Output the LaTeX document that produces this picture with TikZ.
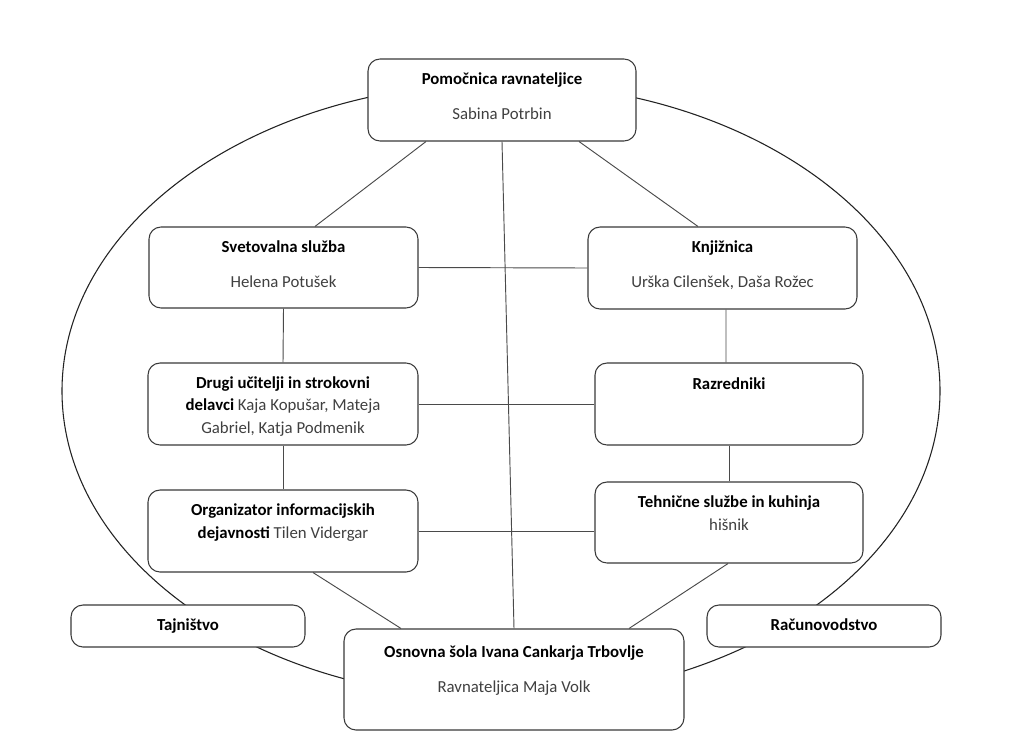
\documentclass[tikz,border=0pt]{standalone}
\usepackage{fontspec}
\setmainfont{Carlito}
\definecolor{boxcol}{HTML}{3A3A3A}
\definecolor{linecol}{HTML}{4A4A4A}
\definecolor{ellcol}{HTML}{222222}
\definecolor{namecol}{HTML}{404040}
\newcommand\dfsize{\fontsize{12.6pt}{16.6pt}\selectfont}
\begin{document}
\begin{tikzpicture}[x=0.75pt,y=-0.75pt,
  boxst/.style={draw=boxcol, line width=0.8pt, rounded corners=9pt, fill=white, inner sep=0pt},
  ttlst/.style={font=\dfsize\bfseries, text=black, anchor=base, align=center, inner sep=0pt},
  nmst/.style={font=\dfsize, text=namecol, anchor=base, align=center, inner sep=0pt},
  mxst/.style={font=\dfsize, text=black, anchor=base, align=center, inner sep=0pt},
  connst/.style={draw=linecol, line width=0.7pt},
  ellst/.style={draw=ellcol, line width=0.8pt}]
\useasboundingbox[fill=white] (0,0) rectangle (1024,753);

% outer ellipse
\draw[ellst] (501,391) ellipse [x radius=439, y radius=308];

% boxes
\node[boxst, minimum width=201pt, minimum height=61.5pt] (top) at (502,100) {};
\node[boxst, minimum width=201.75pt, minimum height=60.75pt] (sv) at (283.5,267.5) {};
\node[boxst, minimum width=201.75pt, minimum height=61.5pt] (kn) at (722.5,268) {};
\node[boxst, minimum width=202.5pt, minimum height=61.5pt] (du) at (283,404) {};
\node[boxst, minimum width=201pt, minimum height=61.5pt] (rz) at (729,404) {};
\node[boxst, minimum width=202.5pt, minimum height=61.5pt] (org) at (283,531) {};
\node[boxst, minimum width=201pt, minimum height=60.75pt] (teh) at (729,522.5) {};
\node[boxst, minimum width=175.5pt, minimum height=31.5pt] (taj) at (188,626) {};
\node[boxst, minimum width=175.5pt, minimum height=31.5pt] (rac) at (824,626) {};
\node[boxst, minimum width=255pt, minimum height=75.75pt] (os) at (514,679.5) {};

% texts
\node[ttlst] (topT) at (502,84) {Pomočnica ravnateljice};
\node[nmst] (topN) at (502,119) {Sabina Potrbin};
\node[ttlst] (svT) at (283.5,252) {Svetovalna služba};
\node[nmst] (svN) at (283.5,287) {Helena Potušek};
\node[ttlst] (knT) at (722.5,252) {Knjižnica};
\node[nmst] (knN) at (722.5,287) {Urška Cilenšek, Daša Rožec};
\node[mxst] (duT) at (283,433) {\textbf{Drugi učitelji in strokovni}\\\textbf{delavci} \textcolor{namecol}{Kaja Kopušar, Mateja}\\\textcolor{namecol}{Gabriel, Katja Podmenik}};
\node[ttlst] (rzT) at (729,389) {Razredniki};
\node[mxst] (orgT) at (283,538) {\textbf{Organizator informacijskih}\\\textbf{dejavnosti} \textcolor{namecol}{Tilen Vidergar}};
\node[mxst] (tehT) at (729,530) {\textbf{Tehnične službe in kuhinja}\\\textcolor{namecol}{hišnik}};
\node[ttlst] (tajT) at (188,630) {Tajništvo};
\node[ttlst] (racT) at (824,630) {Računovodstvo};
\node[ttlst] (osT) at (514,657) {Osnovna šola Ivana Cankarja Trbovlje};
\node[nmst] (osN) at (514,692) {Ravnateljica Maja Volk};

% connectors
\draw[connst] ([xshift=-57pt]top.south) -- ([xshift=23.6pt]sv.north);
\draw[connst] ([xshift=57.75pt]top.south) -- ([xshift=-18.4pt]kn.north);
\draw[connst] (top.south) -- (os.north);
\draw[connst] (sv.east) -- (kn.west);
\draw[connst] (sv.south) -- (du.north);
\draw[connst] (du.east) -- (rz.west);
\draw[connst] (du.south) -- (org.north);
\draw[connst] ([xshift=2.6pt]kn.south) -- ([xshift=-2.25pt]rz.north);
\draw[connst] (rz.south) -- (teh.north);
\draw[connst] (org.east) -- (org.east -| teh.west);
\draw[connst] ([xshift=22.5pt]org.south) -- ([xshift=-84.75pt]os.north);
\draw[connst] ([xshift=-0.75pt]teh.south) -- ([xshift=86.25pt]os.north);
\end{tikzpicture}
\end{document}
